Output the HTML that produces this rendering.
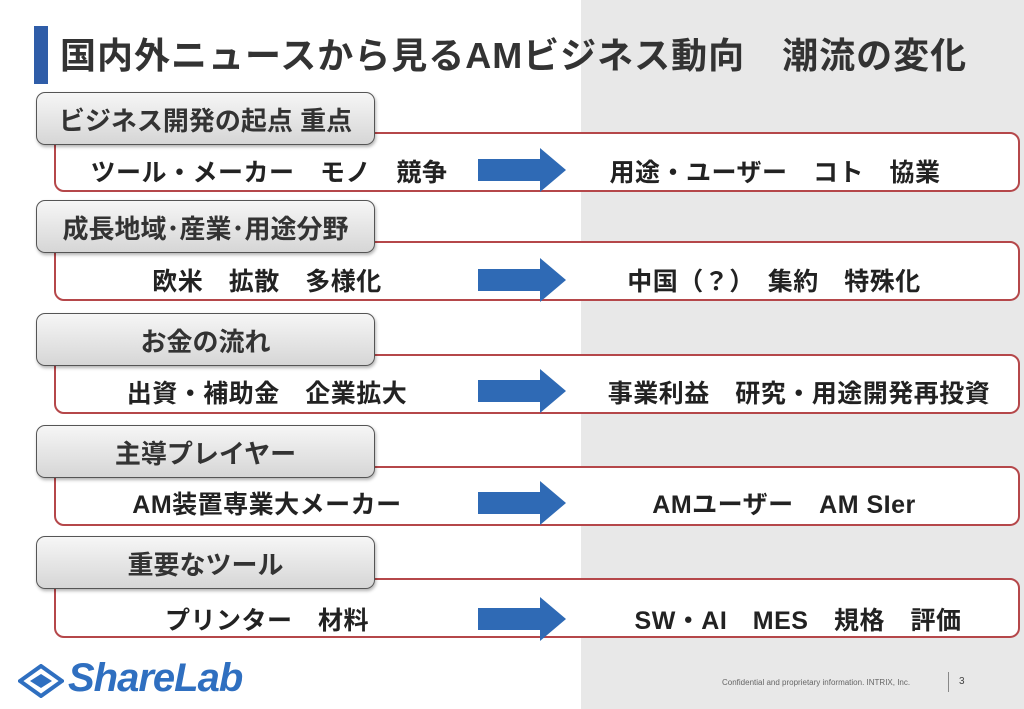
<!DOCTYPE html>
<html><head><meta charset="utf-8"><style>
body{margin:0;width:1024px;height:709px;position:relative;overflow:hidden;background:#fff;font-family:"Liberation Sans","Noto Sans CJK JP",sans-serif;}
.gray{position:absolute;left:581px;top:0;width:443px;height:709px;background:#e8e8e8;}
.bar{position:absolute;left:34px;top:26px;width:14px;height:58px;background:#2f5da8;}
.title{position:absolute;left:60px;top:27px;font-size:36px;font-weight:bold;color:#333;letter-spacing:1px;white-space:nowrap;}
.red{position:absolute;left:54px;width:966px;height:60px;border:2px solid #b5474a;border-radius:10px;background:#fff;box-sizing:border-box;}
.lab{position:absolute;left:36px;width:339px;height:53px;border:1.5px solid #555;border-radius:9px;box-sizing:border-box;background:linear-gradient(#f6f6f6,#d6d6d6);box-shadow:1px 2px 3px rgba(0,0,0,.3);font-size:26px;font-weight:bold;color:#333;text-align:center;line-height:56px;white-space:nowrap;}
.t{position:absolute;font-size:25px;font-weight:bold;color:#222;white-space:nowrap;transform:translateX(-50%);letter-spacing:0.5px;}
.arr{position:absolute;left:478px;width:88px;height:44px;}
.foot{position:absolute;left:722px;top:678px;font-size:8px;color:#666;}
.pg{position:absolute;left:948px;top:672px;border-left:1px solid #888;padding-left:10px;font-size:10px;color:#444;height:20px;line-height:20px;}
.logo{position:absolute;left:68px;top:656px;font-size:40px;font-weight:bold;font-style:italic;color:#2f6fc0;letter-spacing:-1px;}
</style></head><body>
<div class="gray"></div>
<div class="bar"></div>
<div class="title">国内外ニュースから見るAMビジネス動向　潮流の変化</div>

<div class="red" style="top:132px"></div>
<div class="lab" style="top:92px">ビジネス開発の起点 重点</div>
<div class="t" style="left:269px;top:153px">ツール・メーカー　モノ　競争</div>
<div class="t" style="left:775px;top:153px">用途・ユーザー　コト　協業</div>
<svg class="arr" style="top:148px" viewBox="0 0 88 44"><polygon points="0,11 62,11 62,0 88,22 62,44 62,33 0,33" fill="#2f6ab5"/></svg>

<div class="red" style="top:241px"></div>
<div class="lab" style="top:200px">成長地域･産業･用途分野</div>
<div class="t" style="left:267px;top:262px">欧米　拡散　多様化</div>
<div class="t" style="left:774px;top:262px">中国（？）　集約　特殊化</div>
<svg class="arr" style="top:258px" viewBox="0 0 88 44"><polygon points="0,11 62,11 62,0 88,22 62,44 62,33 0,33" fill="#2f6ab5"/></svg>

<div class="red" style="top:354px"></div>
<div class="lab" style="top:313px">お金の流れ</div>
<div class="t" style="left:267px;top:374px">出資・補助金　企業拡大</div>
<div class="t" style="left:799px;top:374px">事業利益　研究・用途開発再投資</div>
<svg class="arr" style="top:369px" viewBox="0 0 88 44"><polygon points="0,11 62,11 62,0 88,22 62,44 62,33 0,33" fill="#2f6ab5"/></svg>

<div class="red" style="top:466px"></div>
<div class="lab" style="top:425px">主導プレイヤー</div>
<div class="t" style="left:267px;top:485px">AM装置専業大メーカー</div>
<div class="t" style="left:784px;top:485px">AMユーザー　AM SIer</div>
<svg class="arr" style="top:481px" viewBox="0 0 88 44"><polygon points="0,11 62,11 62,0 88,22 62,44 62,33 0,33" fill="#2f6ab5"/></svg>

<div class="red" style="top:578px"></div>
<div class="lab" style="top:536px">重要なツール</div>
<div class="t" style="left:267px;top:601px">プリンター　材料</div>
<div class="t" style="left:798px;top:601px">SW・AI　MES　規格　評価</div>
<svg class="arr" style="top:597px" viewBox="0 0 88 44"><polygon points="0,11 62,11 62,0 88,22 62,44 62,33 0,33" fill="#2f6ab5"/></svg>

<svg style="position:absolute;left:18px;top:664px" width="46" height="34" viewBox="0 0 46 34"><polygon points="23,2 44,17 23,32 2,17" fill="none" stroke="#2f6fc0" stroke-width="4"/><polygon points="23,10 34,17 23,24 12,17" fill="#2f6fc0"/></svg>
<div class="logo">ShareLab</div>
<div class="foot">Confidential and proprietary information. INTRIX, Inc.</div>
<div class="pg">3</div>
</body></html>
